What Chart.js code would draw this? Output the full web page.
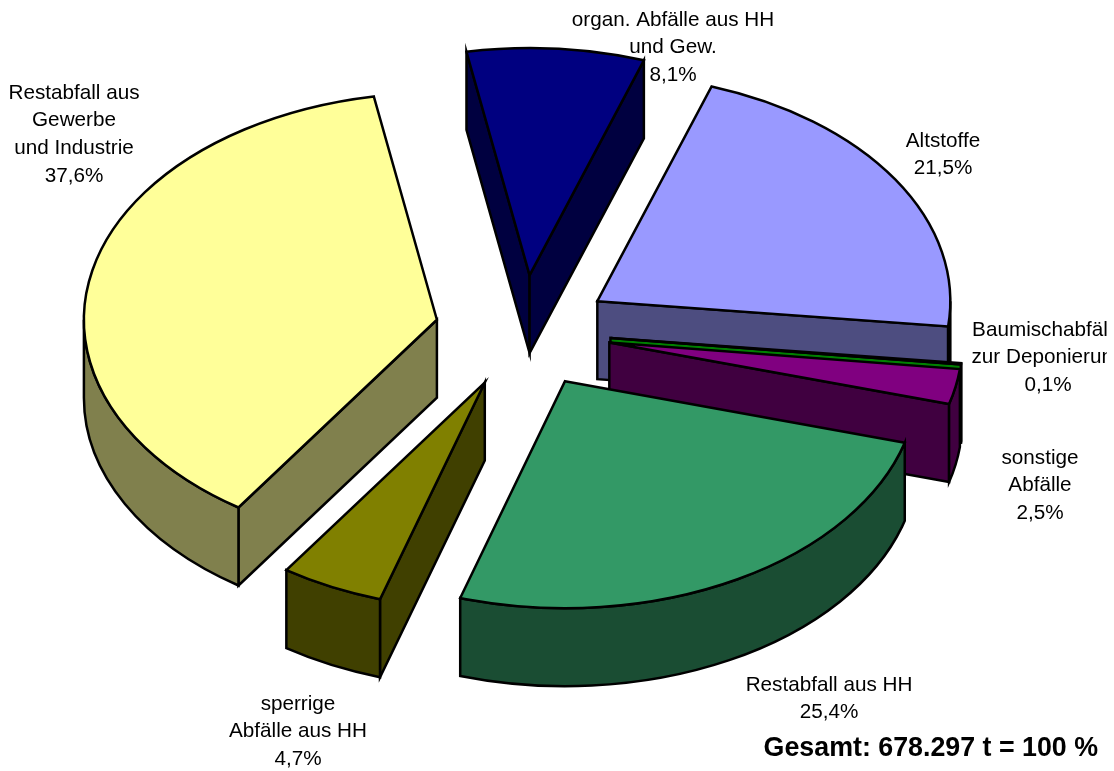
<!DOCTYPE html>
<html lang="de">
<head>
    <meta charset="UTF-8">
    <title>Abfallaufkommen</title>
    <script src="https://cdn.jsdelivr.net/npm/chart.js"></script>
    <style>
        body { margin: 0; background: #fff; }
        canvas { display: block; }
    </style>
</head>
<body>
    <canvas id="wasteChart" width="1114" height="771"></canvas>

    <script>
        const categories = [
            'organ. Abfälle aus HH\nund Gew.',
            'Altstoffe',
            'Baumischabfälle\nzur Deponierung',
            'sonstige\nAbfälle',
            'Restabfall aus HH',
            'sperrige\nAbfälle aus HH',
            'Restabfall aus\nGewerbe\nund Industrie'
        ];
        const shares = [8.1, 21.5, 0.1, 2.5, 25.4, 4.7, 37.6];
        const sliceColors = ['#000080', '#9999FF', '#00FF00', '#800080', '#339966', '#808000', '#FFFF99'];
        const totalText = 'Gesamt: 678.297 t = 100 %';

        // look of the fake 3D, px on screen
        const squash = 0.643;
        const depth = 78;
        const explode = 88;
        // back slices first so the front ones cover them
        const drawOrder = [0, 1, 2, 3, 6, 5, 4];
        // centre x and first line y of each label
        const labelAnchors = [[673, 20], [943, 141], [1048, 330], [1040, 458], [829, 685], [298, 704], [74, 93]];

        function darker(hex) {
            const n = parseInt(hex.slice(1), 16);
            const half = v => Math.round(v / 2);
            return `rgb(${half(n >> 16)}, ${half((n >> 8) & 255)}, ${half(n & 255)})`;
        }

        function drawSlice(ctx, arc, color) {
            const { x, y, startAngle, endAngle, outerRadius: r } = arc;
            const mid = (startAngle + endAngle) / 2;
            const ox = x + Math.cos(mid) * explode;
            const oy = y + Math.sin(mid) * explode * squash;
            const rimX = a => ox + Math.cos(a) * r;
            const rimY = a => oy + Math.sin(a) * r * squash;

            ctx.lineWidth = 2.5;
            ctx.lineJoin = 'miter';
            ctx.strokeStyle = '#000';
            ctx.fillStyle = darker(color);

            const flatWall = a => {
                ctx.beginPath();
                ctx.moveTo(ox, oy);
                ctx.lineTo(rimX(a), rimY(a));
                ctx.lineTo(rimX(a), rimY(a) + depth);
                ctx.lineTo(ox, oy + depth);
                ctx.closePath();
                ctx.fill();
                ctx.stroke();
            };
            if (Math.cos(startAngle) < 0) flatWall(startAngle);
            if (Math.cos(endAngle) > 0) flatWall(endAngle);

            // rim wall only where it faces the viewer (lower half of the ellipse)
            for (let k = -1; k < 2; k++) {
                const lo = Math.max(startAngle, k * 2 * Math.PI);
                const hi = Math.min(endAngle, k * 2 * Math.PI + Math.PI);
                if (hi <= lo) continue;
                ctx.beginPath();
                ctx.ellipse(ox, oy, r, r * squash, 0, lo, hi);
                ctx.ellipse(ox, oy + depth, r, r * squash, 0, hi, lo, true);
                ctx.closePath();
                ctx.fill();
                ctx.stroke();
            }

            // top face: the library's own arc, squashed
            ctx.save();
            ctx.translate(ox, oy);
            ctx.scale(1, squash);
            ctx.translate(-x, -y);
            arc.draw(ctx);
            ctx.restore();

            ctx.beginPath();
            ctx.moveTo(ox, oy);
            ctx.ellipse(ox, oy, r, r * squash, 0, startAngle, endAngle);
            ctx.closePath();
            ctx.stroke();
        }

        const pie3d = {
            id: 'pie3d',
            beforeDatasetDraw(chart) {
                const arcs = chart.getDatasetMeta(0).data;
                drawOrder.forEach(i => drawSlice(chart.ctx, arcs[i], sliceColors[i]));
                return false;
            },
            afterDraw(chart) {
                const ctx = chart.ctx;
                ctx.save();
                ctx.fillStyle = '#000';
                ctx.textAlign = 'center';
                ctx.textBaseline = 'middle';
                ctx.font = '20.7px "Liberation Sans"';
                // the long label runs off the plot box in the original
                ctx.beginPath();
                ctx.rect(0, 0, 1107, 771);
                ctx.clip();
                categories.forEach((name, i) => {
                    const lines = name.split('\n');
                    lines.push(String(shares[i]).replace('.', ',') + '%');
                    lines.forEach((line, n) => {
                        ctx.fillText(line, labelAnchors[i][0], labelAnchors[i][1] + n * 27.6);
                    });
                });
                ctx.font = 'bold 26.8px "Liberation Sans"';
                ctx.textAlign = 'right';
                ctx.fillText(totalText, 1098, 749);
                ctx.restore();
            }
        };

        new Chart(document.getElementById('wasteChart').getContext('2d'), {
            type: 'pie',
            data: {
                labels: categories,
                datasets: [{
                    data: shares,
                    backgroundColor: sliceColors,
                    borderWidth: 0
                }]
            },
            options: {
                responsive: false,
                animation: false,
                rotation: -10.3,
                radius: 353,
                layout: { padding: { left: 0, top: 0, right: 68, bottom: 108 } },
                plugins: { legend: { display: false }, tooltip: { enabled: false } }
            },
            plugins: [pie3d]
        });
    </script>
</body>
</html>
